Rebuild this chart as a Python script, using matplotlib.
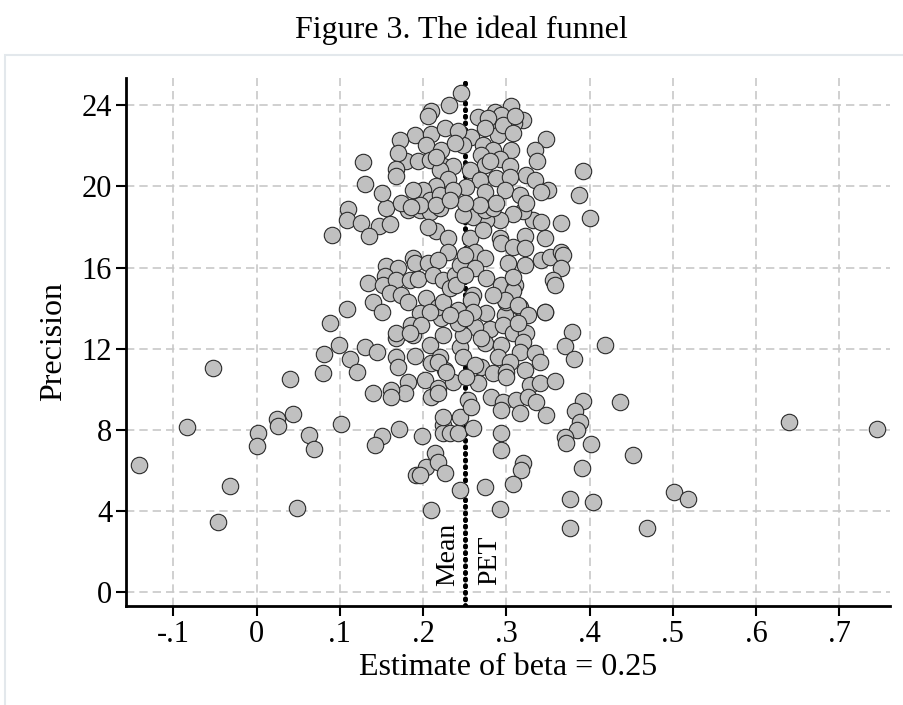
import numpy as np
import matplotlib
matplotlib.use("Agg")
import matplotlib.pyplot as plt
from matplotlib.patches import Rectangle

plt.rcParams["font.family"] = ["Liberation Serif", "DejaVu Serif"]

# estimates (beta) read off the funnel, paired with precision below
beta_est = [
    -0.053, -0.084, -0.141, -0.032, -0.047, 0.040, 0.001, 0.000, 0.025, 0.026,
    0.044, 0.063, 0.069, 0.048, 0.101, 0.080, 0.081, 0.099, 0.112, 0.120,
    0.088, 0.108, 0.130, 0.346, 0.379, 0.370, 0.381, 0.419, 0.437, 0.392,
    0.382, 0.388, 0.385, 0.370, 0.372, 0.402, 0.452, 0.391, 0.376, 0.404,
    0.376, 0.469, 0.502, 0.518, 0.640, 0.745,
    0.276, 0.298, 0.324, 0.316, 0.300, 0.280, 0.296, 0.308, 0.324, 0.320,
    0.274, 0.294, 0.316, 0.334, 0.340, 0.290, 0.304, 0.322, 0.270, 0.284,
    0.300, 0.300, 0.328, 0.340, 0.358, 0.282, 0.296, 0.312, 0.326, 0.336,
    0.294, 0.316, 0.348, 0.294, 0.294, 0.320, 0.318, 0.308, 0.274, 0.292,
    0.224, 0.224, 0.232, 0.242, 0.260, 0.214, 0.204, 0.218, 0.192, 0.196,
    0.226, 0.244, 0.210, 0.171, 0.199,
    0.168, 0.188, 0.208, 0.224, 0.244, 0.144, 0.168, 0.170, 0.190, 0.210,
    0.220, 0.226, 0.202, 0.182, 0.178, 0.162, 0.162, 0.210, 0.218, 0.236,
    0.140, 0.150, 0.142, 0.244,
    0.222, 0.242, 0.262, 0.248, 0.248, 0.218, 0.262, 0.228, 0.266, 0.252,
    0.218, 0.254, 0.258, 0.224,
    0.110, 0.155, 0.182, 0.196, 0.108, 0.125, 0.147, 0.160, 0.135, 0.090,
    0.208, 0.220, 0.216, 0.206, 0.230, 0.230, 0.188, 0.190, 0.206, 0.218,
    0.156, 0.170, 0.154, 0.134, 0.152, 0.168, 0.184, 0.194, 0.212, 0.224,
    0.238, 0.244, 0.160, 0.174, 0.182, 0.204, 0.140, 0.150, 0.218, 0.224,
    0.232, 0.240, 0.196, 0.208, 0.186, 0.198, 0.242, 0.168,
    0.400, 0.366, 0.346, 0.322, 0.332, 0.342, 0.320, 0.308, 0.292, 0.276,
    0.260, 0.248, 0.274, 0.284, 0.256, 0.272, 0.292, 0.294, 0.308, 0.322,
    0.262, 0.250, 0.274, 0.262, 0.302, 0.322, 0.342, 0.352, 0.366, 0.368,
    0.366, 0.356, 0.358, 0.276, 0.250, 0.294, 0.310, 0.308, 0.260, 0.258,
    0.298, 0.284, 0.314, 0.346, 0.326, 0.260, 0.250, 0.314,
    0.246, 0.306, 0.286, 0.266, 0.320, 0.309, 0.284, 0.294, 0.348, 0.334,
    0.337, 0.392, 0.387, 0.258, 0.290, 0.248, 0.272, 0.284, 0.306, 0.270,
    0.292, 0.304, 0.274, 0.256, 0.324, 0.334, 0.350, 0.342, 0.268, 0.288,
    0.304, 0.252, 0.274, 0.298, 0.316, 0.288, 0.268, 0.250, 0.324,
    0.231, 0.209, 0.206, 0.278, 0.296, 0.310, 0.190, 0.210, 0.226, 0.242,
    0.274, 0.308, 0.204, 0.222, 0.238, 0.180, 0.194, 0.208, 0.224, 0.236,
    0.280, 0.172,
    0.128, 0.130, 0.151, 0.170, 0.168, 0.167, 0.220, 0.230, 0.216, 0.200,
    0.188, 0.208, 0.220, 0.236, 0.196, 0.216, 0.232, 0.174, 0.186, 0.215,
    0.232, 0.184, 0.270, 0.308,
]

precision = [
    11.03, 8.12, 6.25, 5.24, 3.47, 10.50, 7.86, 7.21, 8.55, 8.19,
    8.76, 7.73, 7.07, 4.13, 8.27, 10.78, 11.74, 12.19, 11.47, 10.83,
    13.25, 13.94, 12.10, 13.79, 12.82, 12.15, 11.49, 12.19, 9.35, 9.42,
    8.94, 8.38, 8.00, 7.66, 7.33, 7.30, 6.76, 6.10, 4.59, 4.42,
    3.17, 3.17, 4.92, 4.57, 8.38, 8.04,
    13.74, 13.66, 13.66, 14.07, 14.31, 12.95, 13.17, 12.76, 12.76, 12.34,
    12.26, 12.18, 11.85, 11.77, 11.36, 11.60, 11.36, 10.95, 11.11, 10.78,
    10.86, 10.62, 10.21, 10.29, 10.40, 9.63, 9.38, 9.47, 9.63, 9.38,
    8.97, 8.81, 8.73, 7.83, 7.00, 6.35, 6.02, 5.31, 5.16, 4.09,
    8.23, 7.83, 7.83, 7.86, 8.07, 6.84, 6.18, 6.43, 5.77, 5.77,
    5.85, 5.03, 4.04, 8.02, 7.69,
    12.51, 12.67, 12.18, 12.67, 12.10, 11.85, 11.60, 11.08, 11.64, 11.28,
    11.60, 10.95, 10.45, 10.37, 9.80, 9.96, 9.63, 9.63, 10.04, 10.37,
    9.80, 7.69, 7.25, 8.64,
    13.50, 13.91, 13.08, 12.67, 11.60, 11.36, 11.19, 10.86, 10.29, 10.62,
    9.80, 9.47, 9.14, 8.64,
    18.89, 18.95, 18.84, 18.84, 18.34, 18.18, 18.06, 18.13, 17.55, 17.60,
    18.75, 18.92, 17.80, 18.01, 17.44, 16.78, 16.45, 16.21, 16.21, 16.37,
    16.08, 15.96, 15.58, 15.25, 15.14, 15.38, 15.38, 15.43, 15.63, 15.38,
    15.63, 16.12, 14.73, 14.65, 14.31, 14.51, 14.29, 13.82, 14.07, 14.31,
    14.98, 15.14, 13.74, 13.82, 13.17, 13.17, 13.25, 12.76,
    18.46, 18.18, 17.47, 17.57, 18.34, 18.26, 18.79, 18.62, 18.34, 18.34,
    18.51, 18.59, 18.84, 18.92, 17.44, 17.85, 17.44, 17.19, 17.03, 16.95,
    16.78, 16.62, 16.45, 15.96, 16.21, 16.12, 16.37, 16.53, 16.78, 16.62,
    15.96, 15.38, 15.14, 15.47, 15.63, 15.14, 15.14, 14.84, 14.65, 14.40,
    14.40, 14.65, 14.15, 13.82, 13.66, 13.82, 13.50, 13.25,
    24.59, 23.96, 23.68, 23.41, 23.27, 23.11, 23.19, 23.52, 22.32, 21.79,
    21.25, 20.77, 19.58, 22.45, 22.53, 22.04, 22.04, 21.79, 21.79, 21.55,
    21.35, 21.01, 21.05, 20.81, 20.56, 20.32, 19.82, 19.74, 20.32, 20.40,
    20.48, 19.99, 19.74, 19.82, 19.58, 19.17, 19.08, 19.17, 19.17,
    24.00, 23.73, 23.46, 23.37, 23.04, 23.46, 22.55, 22.58, 22.88, 22.72,
    22.88, 22.63, 22.06, 21.81, 22.14, 21.24, 21.24, 21.32, 20.99, 20.99,
    21.24, 22.30,
    21.22, 20.10, 19.69, 21.66, 20.84, 20.51, 20.81, 20.35, 20.02, 19.82,
    19.82, 19.33, 19.58, 19.82, 19.08, 19.08, 19.33, 19.17, 19.00, 21.46,
    13.66, 12.76, 12.51, 15.55,
]

mean_beta = 0.25
pet_beta = 0.25

x_ticks = [-0.1, 0, 0.1, 0.2, 0.3, 0.4, 0.5, 0.6, 0.7]
x_tick_labels = ["-.1", "0", ".1", ".2", ".3", ".4", ".5", ".6", ".7"]
y_ticks = [0, 4, 8, 12, 16, 20, 24]

fig = plt.figure(figsize=(9.04, 7.05), dpi=100)
fig.patches.append(Rectangle((0.006, -0.01), 1.0, 0.932, transform=fig.transFigure,
                             fill=False, edgecolor="#e3e8ec", linewidth=1.5))
ax = fig.add_axes([0.1394, 0.1404, 0.8451, 0.749])

ax.scatter(beta_est, precision, s=140, c="#c0c0c0", edgecolors="#2a2a2a",
           linewidths=0.8, zorder=3)

# mean and PET estimate sit at the same place -> dotted line under the markers
for xv in [mean_beta, pet_beta]:
    ax.axvline(xv, color="black", linestyle=(0, (0.2, 1.2)), linewidth=3.4,
               dash_capstyle="round", zorder=2)
ax.annotate("Mean", xy=(mean_beta, 0), xytext=(-3, 4), textcoords="offset points",
            rotation=90, ha="right", va="bottom", fontsize=20)
ax.annotate("PET", xy=(pet_beta, 0), xytext=(9, 5), textcoords="offset points",
            rotation=90, ha="left", va="bottom", fontsize=20)

ax.set_xlim(-0.157, 0.761)
ax.set_ylim(-0.69, 25.35)
ax.set_xticks(x_ticks)
ax.set_xticklabels(x_tick_labels)
ax.set_yticks(y_ticks)
ax.tick_params(axis="both", labelsize=22, length=7, width=1.5, direction="out", pad=3)
ax.grid(True, color="#c8c8c8", linestyle=(0, (5, 3)), linewidth=1.2, zorder=0)
ax.set_axisbelow(True)

for side in ["top", "right"]:
    ax.spines[side].set_visible(False)
for side in ["left", "bottom"]:
    ax.spines[side].set_linewidth(2)

ax.set_xlabel("Estimate of beta = 0.25", fontsize=23, labelpad=3)
ax.set_ylabel("Precision", fontsize=23, labelpad=10)
fig.text(0.51, 0.957, "Figure 3. The ideal funnel", ha="center", va="center", fontsize=23)

fig.savefig("out.png", dpi=100)
